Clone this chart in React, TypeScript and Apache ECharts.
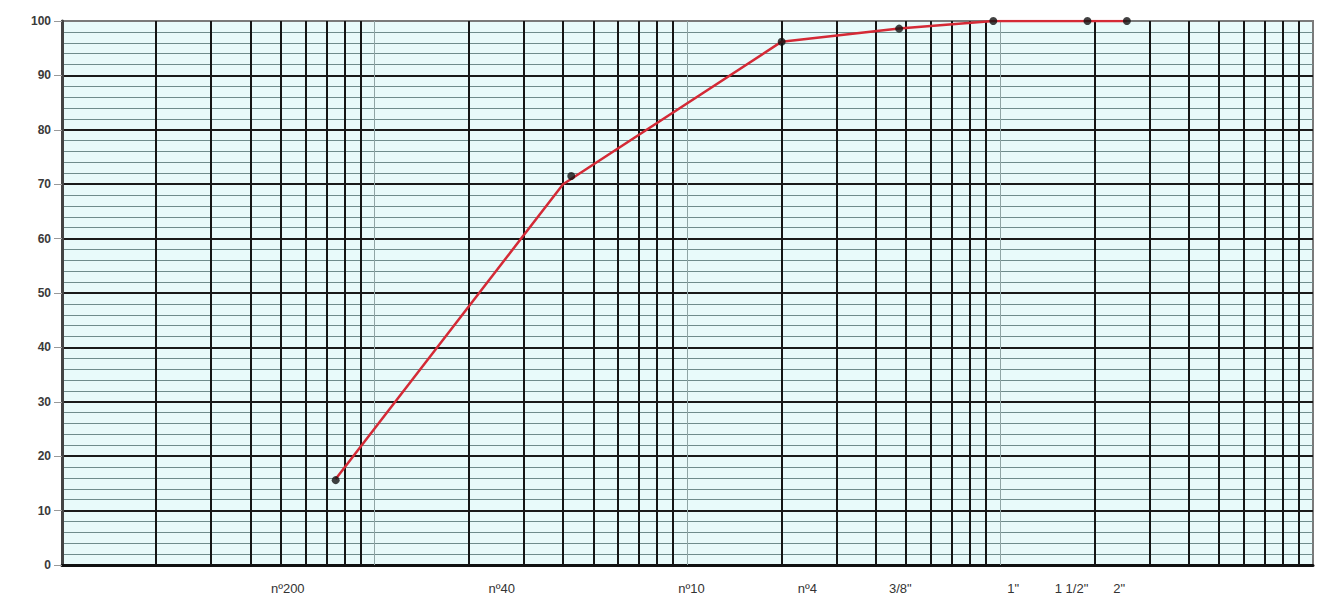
import React, { useEffect, useRef } from "react";
import * as echarts from "echarts";

// Sieve openings (mm) and percent passing
const sieveMm: number[] = [0.075, 0.425, 2.0, 4.75, 9.5, 19.0, 25.4];
const passingPct: number[] = [15.6, 71.5, 96.2, 98.6, 100, 100, 100];

// Red grading curve vertices (mm, % passing)
const curveMm: number[] = [0.075, 0.4, 2.0, 4.75, 9.5, 25.4];
const curvePct: number[] = [15.8, 70, 96.2, 98.6, 100, 100];

// X-axis label texts and where they sit along the axis (mm)
const xLabels: string[] = ["nº200", "nº40", "nº10", "nº4", '3/8"', '1"', '1 1/2"', '2"'];
const xLabelAtMm: number[] = [0.0527, 0.2546, 1.03, 2.417, 4.79, 11.0, 16.9, 24.0];

// Axis ranges
const xMinMm = 0.01;
const xMaxMm = 100;
const yTicks: number[] = [0, 10, 20, 30, 40, 50, 60, 70, 80, 90, 100];

export default function App() {
  const ref = useRef<HTMLDivElement>(null);

  useEffect(() => {
    if (!ref.current) return;
    const chart = echarts.init(ref.current, undefined, { renderer: "svg" });

    // log-grid vertical lines: 2..9 within each decade (thick), decades (thin)
    const minorLines: any[] = [];
    const decadeLines: any[] = [];
    for (let d = Math.log10(xMinMm); d < Math.log10(xMaxMm); d++) {
      const base = Math.pow(10, d);
      if (d > Math.log10(xMinMm)) decadeLines.push({ xAxis: base });
      for (let k = 2; k <= 9; k++) minorLines.push({ xAxis: +(k * base).toPrecision(6) });
    }

    const labelLog = xLabelAtMm.map((v) => Math.log10(v));
    const splitColors = yTicks.map((t) => (t === 100 ? "#7a7a7a" : "#1a1a1a"));

    chart.setOption({
      animation: false,
      backgroundColor: "#ffffff",
      grid: {
        left: 62,
        right: 11,
        top: 21,
        bottom: 36,
        show: true,
        backgroundColor: "#e8fafa",
        borderColor: "#7a7a7a",
        borderWidth: 2,
      },
      xAxis: [
        {
          type: "log",
          logBase: 10,
          min: xMinMm,
          max: xMaxMm,
          position: "bottom",
          axisLine: { show: true, onZero: false, lineStyle: { color: "#111", width: 3 } },
          axisTick: { show: false },
          axisLabel: { show: false },
          splitLine: { show: false },
          minorSplitLine: { show: false },
        },
        {
          type: "value",
          min: Math.log10(xMinMm),
          max: Math.log10(xMaxMm),
          position: "bottom",
          axisLine: { show: false, onZero: false },
          axisTick: { show: false },
          splitLine: { show: false },
          axisLabel: {
            show: true,
            customValues: labelLog,
            margin: 17,
            color: "#333",
            fontSize: 13,
            fontFamily: "Liberation Sans, Arial, sans-serif",
            formatter: (v: number) => {
              const i = labelLog.findIndex((l) => Math.abs(l - v) < 1e-6);
              return i >= 0 ? xLabels[i] : "";
            },
          },
        },
      ],
      yAxis: {
        type: "value",
        min: 0,
        max: 100,
        interval: 10,
        axisLine: { show: true, onZero: false, lineStyle: { color: "#444", width: 3 } },
        axisTick: { show: true, inside: false, length: 8, lineStyle: { color: "#999", width: 1 } },
        axisLabel: {
          margin: 11,
          color: "#3a3a3a",
          fontSize: 12,
          fontWeight: "bold",
          fontFamily: "Liberation Sans, Arial, sans-serif",
          formatter: (v: number) => (yTicks.includes(v) ? String(v) : ""),
        },
        splitLine: { show: true, lineStyle: { color: splitColors, width: 2 } },
        minorTick: { show: false, splitNumber: 5 },
        minorSplitLine: { show: true, lineStyle: { color: "#6f8c8c", width: 1 } },
      },
      series: [
        {
          type: "line",
          xAxisIndex: 0,
          data: curveMm.map((x, i) => [x, curvePct[i]]),
          showSymbol: false,
          symbol: "none",
          lineStyle: { color: "#d42a36", width: 2.5 },
          z: 5,
          markLine: {
            silent: true,
            symbol: ["none", "none"],
            label: { show: false },
            animation: false,
            data: [
              ...minorLines.map((m) => ({ ...m, lineStyle: { color: "#151515", width: 2, type: "solid" } })),
              ...decadeLines.map((m) => ({ ...m, lineStyle: { color: "#8fa5a5", width: 1, type: "solid" } })),
            ],
          },
        },
        {
          type: "scatter",
          xAxisIndex: 0,
          data: sieveMm.map((x, i) => [x, passingPct[i]]),
          symbol: "circle",
          symbolSize: 8,
          itemStyle: { color: "#111" },
          z: 6,
        },
      ],
    });

    return () => chart.dispose();
  }, []);

  return (
    <div
      ref={ref}
      style={{ position: "fixed", left: 0, top: 0, width: 1324, height: 601 }}
    />
  );
}
